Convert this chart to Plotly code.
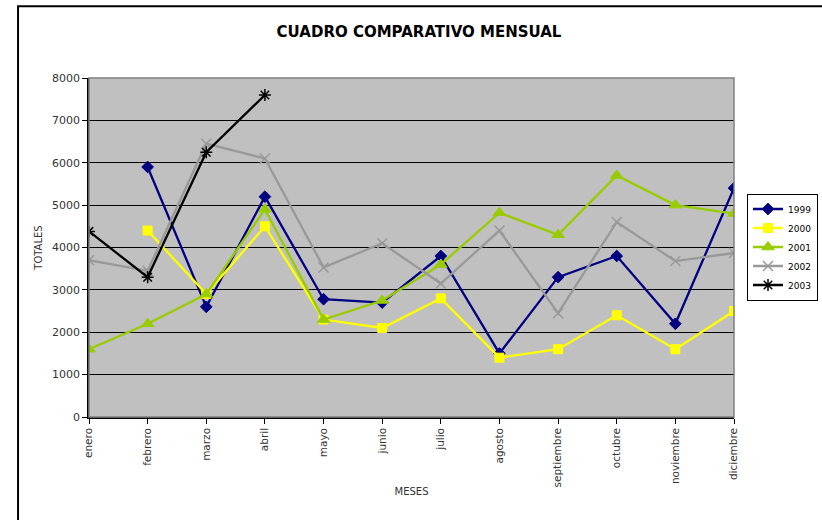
import plotly.graph_objects as go

meses = ["enero", "febrero", "marzo", "abril", "mayo", "junio", "julio",
         "agosto", "septiembre", "octubre", "noviembre", "diciembre"]

v1999 = [None, 5900, 2600, 5200, 2780, 2700, 3800, 1500, 3300, 3800, 2200, 5400]
v2000 = [None, 4400, 2900, 4500, 2300, 2100, 2800, 1400, 1600, 2400, 1600, 2500]
v2001 = [1600, 2200, 2900, 4900, 2300, 2750, 3600, 4820, 4300, 5700, 5000, 4800]
v2002 = [3700, 3450, 6450, 6100, 3530, 4100, 3150, 4400, 2450, 4600, 3680, 3870]
v2003 = [4380, 3300, 6250, 7600, None, None, None, None, None, None, None, None]

series = [
    ("1999", v1999, "#000080", "diamond", 9, 1),
    ("2000", v2000, "#FFFF00", "square", 9, 1),
    ("2001", v2001, "#99CC00", "triangle-up", 11, 1),
    ("2002", v2002, "#999999", "x-thin-open", 10, 1.5),
    ("2003", v2003, "#000000", "asterisk-open", 10, 1.5),
]

fig = go.Figure()
for name, vals, color, sym, size, mlw in series:
    fig.add_trace(go.Scatter(
        x=list(range(len(meses))), y=vals, name=name, mode="lines+markers",
        line=dict(color=color, width=2.3),
        marker=dict(symbol=sym, size=size, color=color,
                    line=dict(color=color, width=mlw)),
        connectgaps=False,
    ))

# outer chart frame
fig.add_shape(type="rect", xref="paper", yref="paper",
              x0=-0.110, y0=-0.6, x1=1.6, y1=1.212,
              line=dict(color="black", width=2), layer="below")
# plot area border
fig.add_shape(type="rect", xref="paper", yref="paper",
              x0=0, y0=0, x1=1, y1=1,
              line=dict(color="#808080", width=1.5), layer="above")

fig.update_layout(
    width=822, height=520,
    margin=dict(l=89, r=88, t=78, b=103, autoexpand=False),
    paper_bgcolor="white", plot_bgcolor="#C0C0C0",
    font=dict(family="DejaVu Sans", size=10, color="#333333"),
    title=dict(text="<b>CUADRO COMPARATIVO MENSUAL</b>",
               x=419 / 822, xanchor="center",
               y=1 - 32 / 520, yanchor="middle",
               font=dict(family="DejaVu Sans", size=15, color="black")),
    showlegend=True,
    legend=dict(x=(818 - 89) / 645, y=(417 - 247) / 339,
                xanchor="right", yanchor="middle",
                bgcolor="white", bordercolor="black", borderwidth=1,
                font=dict(size=9, color="black"), tracegroupgap=0,
                itemwidth=30),
    xaxis=dict(
        tickmode="array", tickvals=list(range(len(meses))), ticktext=meses,
        tickangle=-90, range=[0, 11], showgrid=False, zeroline=False,
        showline=True, linecolor="black", linewidth=1.5,
        ticks="outside", ticklen=5, tickcolor="black",
        tickfont=dict(size=10.5, color="#333333"),
        title=dict(text="MESES", font=dict(size=10, color="#333333"), standoff=2),
    ),
    yaxis=dict(
        range=[0, 8000], dtick=1000, showgrid=True, gridcolor="black", gridwidth=1,
        zeroline=False, showline=True, linecolor="black", linewidth=1.5,
        ticks="outside", ticklen=5, tickcolor="black",
        tickfont=dict(size=11, color="#333333"),
        title=dict(text="TOTALES", font=dict(size=10, color="#333333"), standoff=8),
    ),
)

fig.write_html("out.html")
